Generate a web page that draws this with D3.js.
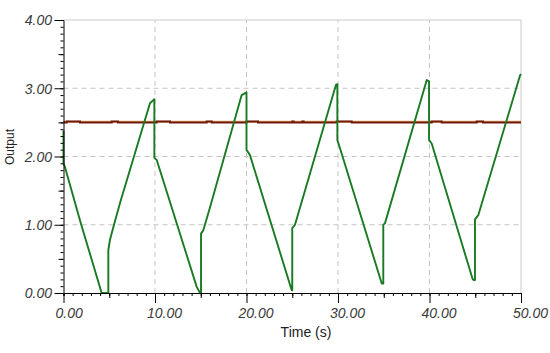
<!DOCTYPE html>
<html>
<head>
<meta charset="utf-8">
<script src="https://cdn.jsdelivr.net/npm/d3@7"></script>
<style>
  body { margin: 0; background: #fff; }
  svg { display: block; }
  text { font-family: "Liberation Sans", Arial, sans-serif; }
</style>
</head>
<body>
<svg id="chart" width="550" height="353"></svg>
<script>
// ---- data ----
const xTickValues = [0, 10, 20, 30, 40, 50];
const yTickValues = [0, 1, 2, 3, 4];
const xTickLabels = ["0.00", "10.00", "20.00", "30.00", "40.00", "50.00"];
const yTickLabels = ["0.00", "1.00", "2.00", "3.00", "4.00"];

// green (process output) : time, value
const greenTime  = [0, 0, 0.15, 1.9, 4.17, 4.9, 4.9, 5.08, 5.52, 6.2, 9.45, 9.93, 9.93, 10.19, 14.56, 14.84, 15.03, 15.03, 15.28, 16.0, 19.47, 20.0, 20.0, 20.38, 24.94, 25.0, 25.0, 25.3, 29.78, 29.93, 29.93, 30.22, 34.78, 34.95, 34.95, 34.95, 35.13, 39.7, 39.95, 39.95, 40.24, 44.72, 44.87, 44.97, 44.97, 45.33, 49.9, 50];
const greenValue = [2.38, 1.9, 1.85, 1.02, 0.0, 0.0, 0.63, 0.78, 1.0, 1.33, 2.78, 2.84, 1.98, 1.95, 0.09, 0.02, 0.0, 0.87, 0.92, 1.25, 2.9, 2.94, 2.1, 2.02, 0.04, 0.04, 0.95, 1.0, 3.05, 3.06, 2.24, 2.12, 0.14, 0.14, 0.53, 1.0, 1.02, 3.12, 3.1, 2.24, 2.19, 0.2, 0.19, 0.19, 1.08, 1.14, 3.19, 3.21];

// dark red (measured output near setpoint)
const redTime  = [0, 0.35, 0.35, 1.8, 1.8, 5.27, 5.27, 5.96, 5.96, 10.19, 10.19, 11.64, 11.64, 15.65, 15.65, 16.2, 16.2, 20.0, 20.0, 21.26, 21.26, 25.0, 25.0, 25.15, 25.15, 26.1, 26.1, 26.25, 26.25, 29.86, 29.86, 31.5, 31.5, 40.24, 40.24, 41.33, 41.33, 45.16, 45.16, 45.85, 45.85, 50];
const redValue = [2.50, 2.50, 2.512, 2.512, 2.50, 2.50, 2.512, 2.512, 2.50, 2.50, 2.512, 2.512, 2.50, 2.50, 2.512, 2.512, 2.50, 2.50, 2.512, 2.512, 2.50, 2.50, 2.512, 2.512, 2.50, 2.50, 2.512, 2.512, 2.50, 2.50, 2.512, 2.512, 2.50, 2.50, 2.512, 2.512, 2.50, 2.50, 2.512, 2.512, 2.50, 2.50];

// orange (setpoint)
const orangeTime  = [0, 50];
const orangeValue = [2.508, 2.508];

const xLabel = "Time (s)";
const yLabel = "Output";

// ---- layout ----
const svg = d3.select("#chart");
const x = d3.scaleLinear().domain([0, 50]).range([63.5, 521]);
const y = d3.scaleLinear().domain([0, 4]).range([293, 20]);

const g = svg.append("g");

// grid
g.append("g").selectAll("line").data([10, 20, 30, 40]).join("line")
  .attr("x1", d => x(d)).attr("x2", d => x(d))
  .attr("y1", y(0)).attr("y2", y(4))
  .attr("stroke", "#c4c4c4").attr("stroke-dasharray", "5,4");
g.append("g").selectAll("line").data([1, 2, 3]).join("line")
  .attr("x1", x(0)).attr("x2", x(50))
  .attr("y1", d => y(d)).attr("y2", d => y(d))
  .attr("stroke", "#c4c4c4").attr("stroke-dasharray", "5,4");
// plot border (top, right)
g.append("path")
  .attr("d", `M${x(0)},${y(4)}H${x(50)}V${y(0)}`)
  .attr("fill", "none").attr("stroke", "#cccccc");

// lines
const line = d3.line().x(d => x(d[0])).y(d => y(d[1]));
g.append("path").datum(orangeTime.map((t, i) => [t, orangeValue[i]]))
  .attr("d", line).attr("fill", "none").attr("stroke", "#e8a060").attr("stroke-width", 2);
g.append("path").datum(redTime.map((t, i) => [t, redValue[i]]))
  .attr("d", line).attr("fill", "none").attr("stroke", "#6e1a0c").attr("stroke-width", 2);
g.append("path").datum(greenTime.map((t, i) => [t, greenValue[i]]))
  .attr("d", line).attr("fill", "none").attr("stroke", "#1a7a22").attr("stroke-width", 1.9)
  .attr("stroke-linejoin", "round");

// x axis
function styleAxis(sel) {
  sel.select(".domain").attr("stroke", "#000");
  sel.selectAll(".tick line").attr("stroke", "#000");
}
const xMinor = d3.range(0, 51, 1);
const xMid = [5, 15, 25, 35, 45];
g.append("g").attr("transform", `translate(0,${y(0)})`)
  .call(d3.axisBottom(x).tickValues(xMinor).tickSize(3).tickFormat(""))
  .call(styleAxis);
g.append("g").attr("transform", `translate(0,${y(0)})`)
  .call(d3.axisBottom(x).tickValues(xMid).tickSize(5).tickFormat(""))
  .call(s => s.select(".domain").remove()).call(styleAxis);
const xAx = g.append("g").attr("transform", `translate(0,${y(0)})`)
  .call(d3.axisBottom(x).tickValues(xTickValues).tickSize(10)
    .tickFormat((d, i) => xTickLabels[i]))
  .call(s => s.select(".domain").remove()).call(styleAxis);
xAx.selectAll(".tick text")
  .attr("text-anchor", "start").attr("x", -8.5).attr("y", 25).attr("dy", null)
  .attr("font-size", 14).attr("font-style", "italic").attr("fill", "#3a3a3a")
  .attr("font-family", "Liberation Sans, Arial, sans-serif");

// y axis
const yMinor = d3.range(0, 41, 1).map(d => d / 10);
const yMid = [0.5, 1.5, 2.5, 3.5];
g.append("g").attr("transform", `translate(${x(0)},0)`)
  .call(d3.axisLeft(y).tickValues(yMinor).tickSize(3).tickFormat(""))
  .call(styleAxis);
g.append("g").attr("transform", `translate(${x(0)},0)`)
  .call(d3.axisLeft(y).tickValues(yMid).tickSize(5).tickFormat(""))
  .call(s => s.select(".domain").remove()).call(styleAxis);
const yAx = g.append("g").attr("transform", `translate(${x(0)},0)`)
  .call(d3.axisLeft(y).tickValues(yTickValues).tickSize(9)
    .tickFormat((d, i) => yTickLabels[i]))
  .call(s => s.select(".domain").remove()).call(styleAxis);
yAx.selectAll(".tick text")
  .attr("text-anchor", "end").attr("x", -11.5).attr("dy", "0.35em")
  .attr("font-size", 14).attr("font-style", "italic").attr("fill", "#3a3a3a")
  .attr("font-family", "Liberation Sans, Arial, sans-serif");

// axis titles
svg.append("text").attr("x", 306).attr("y", 337).attr("text-anchor", "middle")
  .attr("font-size", 14).attr("fill", "#222").text(xLabel);
svg.append("text").attr("transform", "translate(14,147) rotate(-90)")
  .attr("text-anchor", "middle").attr("font-size", 12).attr("fill", "#222").text(yLabel);
</script>
</body>
</html>
